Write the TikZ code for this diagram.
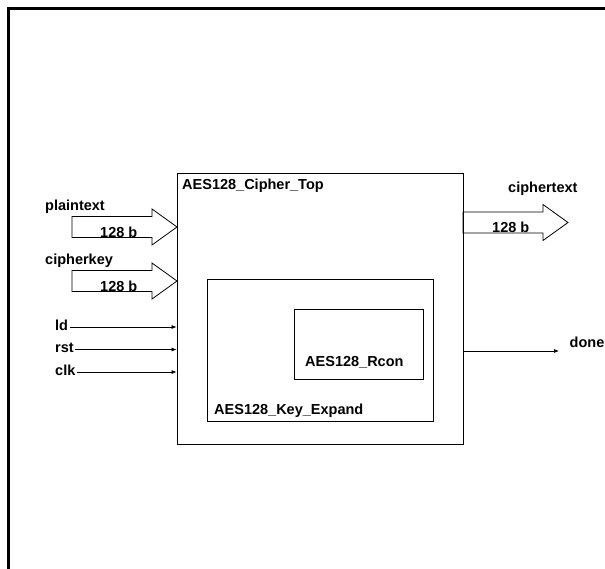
\documentclass[tikz,border=0pt]{standalone}
\usepackage{fontspec}
\setmainfont{Liberation Sans}
\usetikzlibrary{positioning, arrows.meta}

\begin{document}
\begin{tikzpicture}[
  x=1pt, y=-1pt,
  font=\bfseries\fontsize{14.5}{17}\selectfont,
  blockbox/.style={
    rectangle, draw, line width=0.8pt,
    inner sep=0pt
  },
  boxlabel/.style={inner sep=1pt, anchor=base west},
  sigtext/.style={
    inner sep=1.5pt, anchor=west,
    text height=1.5ex, text depth=0.25ex
  },
  wire/.style={line width=0.7pt, -{Latex[length=5pt,width=4pt]}},
  bus/.style={draw, line width=0.8pt, line join=miter},
  pics/busarrow/.style={code={
    \draw[bus] (0,0) -- (-25,-18) -- (-25,-10.5) -- (-105,-10.5)
      -- (-105,10.5) -- (-25,10.5) -- (-25,18) -- cycle;
  }}
]

\path[use as bounding box, clip] (0,0) rectangle (605,568);

% outer frame, cut off at the right and bottom
\draw[line width=3pt] (8,580) -- (8,8) -- (620,8);

% nested module boxes
\node[blockbox, minimum width=286pt, minimum height=271pt] (top) at (320,308.5) {};
\node[blockbox, minimum width=226pt, minimum height=142pt] (keyexp) at (320,350) {};
\node[blockbox, minimum width=129pt, minimum height=70pt] (rcon) at (358.5,344) {};

\node[boxlabel] (toplbl) at (181,189) {AES128\_Cipher\_Top};
\node[boxlabel] (keylbl) at (213,414) {AES128\_Key\_Expand};
\node[boxlabel] (rconlbl) at (304,366) {AES128\_Rcon};

% wide buses
\pic at (177,227) {busarrow};
\node[boxlabel] (ptlbl) at (44,210) {plaintext};
\node[boxlabel] (ptwidth) at (99,237) {128 b};

\pic at (177,281) {busarrow};
\node[boxlabel] (cklbl) at (44,264) {cipherkey};
\node[boxlabel] (ckwidth) at (99,291) {128 b};

\pic at (568,222.5) {busarrow};
\node[boxlabel] (ctlbl) at (507,192) {ciphertext};
\node[boxlabel] (ctwidth) at (491,232) {128 b};

% single-bit control inputs
\node[sigtext] (ld) at (53.5,327) {ld};
\node[sigtext] (rst) at (53.5,349.5) {rst};
\node[sigtext] (clk) at (53.5,372) {clk};
\foreach \sig in {ld, rst, clk}
  \draw[wire] (\sig) -- (\sig -| top.west);

% done output
\coordinate (doneout) at (463,351);
\coordinate (doneend) at (559,351);
\node[boxlabel] (done) at (568.5,347) {done};
\draw[wire] (doneout) -- (doneend);

\end{tikzpicture}
\end{document}
